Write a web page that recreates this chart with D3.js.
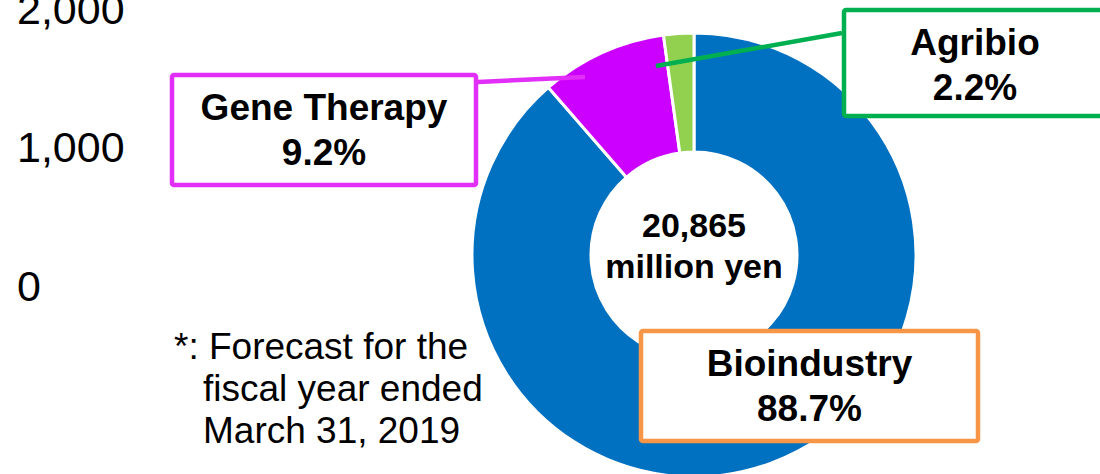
<!DOCTYPE html>
<html>
<head>
<meta charset="utf-8">
<script src="https://cdn.jsdelivr.net/npm/d3@7"></script>
<style>
  body { margin: 0; background: #fff; }
  svg { display: block; font-family: "Liberation Sans", Arial, sans-serif; }
</style>
</head>
<body>
<div id="chart"></div>
<script>
// segments, clockwise from 12 o'clock
var segments = ["Bioindustry", "Gene Therapy", "Agribio"];
var shares = [88.7, 9.2, 2.2];
var segColors = ["#0070C0", "#CC00FF", "#92D050"];
var boxColors = ["#F79646", "#E22EF9", "#00B050"];

var totalLines = ["20,865", "million yen"];
var noteLines = ["*: Forecast for the", "fiscal year ended", "March 31, 2019"];

// axis left over from the neighbouring bar chart
var axisTicks = [0, 1000, 2000];

var width = 1100, height = 474;
var cx = 694, cy = 255, outerR = 222, innerR = 103;

// label boxes (layout only)
var boxes = {
  "Bioindustry":  {x: 641, y: 331, w: 337, h: 110},
  "Gene Therapy": {x: 172, y: 75,  w: 304, h: 110, line: [[478, 82], [585, 77]]},
  "Agribio":      {x: 844, y: 10,  w: 262, h: 106, line: [[842, 33], [656, 66]]}
};

var svg = d3.select("#chart").append("svg")
  .attr("width", width)
  .attr("height", height);

// y axis labels
var yScale = d3.scaleLinear().domain([0, 2000]).range([300, 23]);
var yAxis = d3.axisLeft(yScale)
  .tickValues(axisTicks)
  .tickSize(0)
  .tickFormat(d3.format(","));

var ax = svg.append("g").attr("transform", "translate(17,0)").call(yAxis);
ax.select(".domain").remove();
ax.selectAll("text")
  .attr("x", 0)
  .attr("dy", 0)
  .attr("text-anchor", "start")
  .attr("fill", "#000")
  .style("font-size", "43px")
  .style("font-family", "'Liberation Sans', Arial, sans-serif");

// donut
var data = segments.map(function(s, i) { return {name: s, value: shares[i], color: segColors[i], box: boxColors[i]}; });

var pie = d3.pie().sort(null).value(function(d) { return d.value; });
var arc = d3.arc().innerRadius(innerR).outerRadius(outerR);

var g = svg.append("g").attr("transform", "translate(" + cx + "," + cy + ")");
g.selectAll(".slice")
  .data(pie(data))
  .enter().append("path")
  .attr("class", "slice")
  .attr("d", arc)
  .attr("fill", function(d) { return d.data.color; })
  .attr("stroke", "#fff")
  .attr("stroke-width", 3)
  .attr("stroke-linejoin", "miter");

// centre text
svg.selectAll(".total")
  .data(totalLines)
  .enter().append("text")
  .attr("class", "total")
  .attr("x", cx)
  .attr("y", function(d, i) { return 237 + i * 41; })
  .attr("text-anchor", "middle")
  .style("font-size", "34px")
  .style("font-weight", "bold")
  .text(function(d) { return d; });

// leader lines
data.forEach(function(d) {
  var b = boxes[d.name];
  if (b.line) {
    svg.append("line")
      .attr("x1", b.line[0][0]).attr("y1", b.line[0][1])
      .attr("x2", b.line[1][0]).attr("y2", b.line[1][1])
      .attr("stroke", d.box)
      .attr("stroke-width", 4.5);
  }
});

// label boxes
data.forEach(function(d) {
  var b = boxes[d.name];
  var lg = svg.append("g");
  lg.append("rect")
    .attr("x", b.x).attr("y", b.y)
    .attr("width", b.w).attr("height", b.h)
    .attr("rx", 2)
    .attr("fill", "#fff")
    .attr("stroke", d.box)
    .attr("stroke-width", 4.5);
  lg.selectAll("text")
    .data([d.name, d3.format(".1f")(d.value) + "%"])
    .enter().append("text")
    .attr("x", b.x + b.w / 2)
    .attr("y", function(t, i) { return b.y - 2 + 47 + i * 45; })
    .attr("text-anchor", "middle")
    .style("font-size", "37px")
    .style("font-weight", "bold")
    .text(function(t) { return t; });
});

// footnote
svg.selectAll(".note")
  .data(noteLines)
  .enter().append("text")
  .attr("class", "note")
  .attr("x", function(d, i) { return i === 0 ? 174 : 203; })
  .attr("y", function(d, i) { return 359 + i * 42; })
  .style("font-size", "37px")
  .text(function(d) { return d; });
</script>
</body>
</html>
